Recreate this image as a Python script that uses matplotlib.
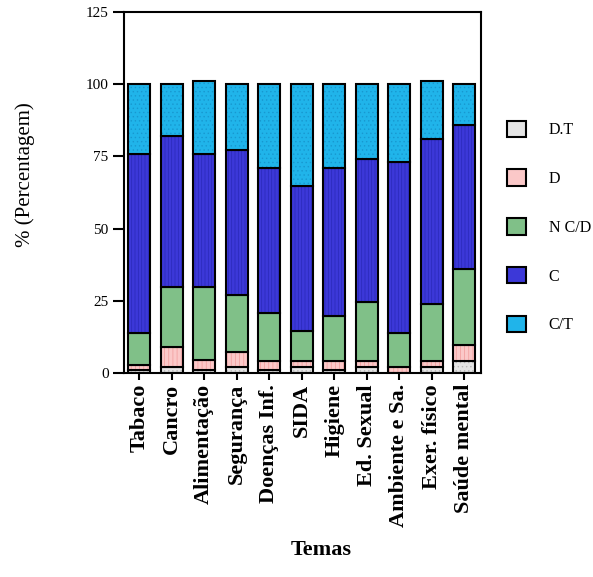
"""
Stacked percentage bars by theme (Temas) - recreated chart.
"""

import numpy as np
import matplotlib
matplotlib.use("Agg")
import matplotlib.pyplot as plt
from matplotlib.patches import Patch

# ---------- DATA ----------

temas = ["Tabaco", "Cancro", "Alimentação", "Segurança", "Doenças Inf.",
         "SIDA", "Higiene", "Ed. Sexual", "Ambiente e Sa.", "Exer. físico",
         "Saúde mental"]

series_names = ["D.T", "D", "N C/D", "C", "C/T"]

dt = [1.0, 2.2, 1.0, 2.2, 1.0, 2.2, 1.0, 2.2, 0.0, 2.2, 4.2]
d = [1.8, 6.7, 3.5, 5.0, 3.0, 1.8, 3.0, 1.8, 2.2, 1.8, 5.5]
ncd = [11.2, 20.8, 25.2, 19.8, 16.7, 10.5, 15.7, 20.5, 11.8, 19.9, 26.2]
c = [61.9, 52.4, 46.2, 50.2, 50.2, 50.2, 51.2, 49.6, 58.9, 57.0, 50.0]
ct = [24.1, 17.9, 25.1, 22.8, 29.1, 35.3, 29.1, 25.9, 27.1, 20.1, 14.1]

yticks = [0, 25, 50, 75, 100, 125]

# ---------- STYLE ----------

FACE = ["#e4e4e4", "#fbc8c8", "#80c088", "#3c38d8", "#20b4ea"]
HATCH_COL = ["#b8b8b8", "#f09a9a", "#80c088", "#2a28b8", "#1898d0"]
HATCH = ["....", "||||", None, "|||||", "...."]

plt.rcParams["font.family"] = ["Liberation Serif", "DejaVu Serif"]
plt.rcParams["hatch.linewidth"] = 0.5


def main():
    fig = plt.figure(figsize=(5.93, 5.77), dpi=100)
    ax = fig.add_axes([124 / 593, 1 - 373 / 577, (481 - 124) / 593, (373 - 12) / 577])

    x = np.arange(len(temas))
    width = 0.68
    bottom = np.zeros(len(temas))
    values = [dt, d, ncd, c, ct]

    for i, vals in enumerate(values):
        vals = np.array(vals)
        # fill + hatch first (hatch takes the edge colour)
        ax.bar(x, vals, width, bottom=bottom, color=FACE[i],
               edgecolor=HATCH_COL[i], hatch=HATCH[i], linewidth=0)
        # black outline on top
        ax.bar(x, vals, width, bottom=bottom, fill=False,
               edgecolor="black", linewidth=1.5)
        bottom = bottom + vals

    ax.set_ylim(0, 125)
    ax.set_xlim(-0.47, len(temas) - 1 + 0.52)
    ax.set_yticks(yticks)
    ax.set_yticklabels([str(t) for t in yticks], fontsize=11)
    ax.set_xticks(x)
    ax.set_xticklabels(temas, rotation=90, fontsize=16, fontweight="bold")
    ax.tick_params(axis="y", length=8, width=1.5, pad=3)
    ax.tick_params(axis="x", length=5, width=1.5, pad=3)
    for sp in ax.spines.values():
        sp.set_linewidth(1.5)

    fig.text(25 / 593, 1 - 175 / 577, "% (Percentagem)", fontsize=15,
             rotation=90, ha="center", va="center")
    fig.text(321 / 593, 1 - 550 / 577, "Temas", fontsize=16, fontweight="bold",
             ha="center", va="center")

    handles = [Patch(facecolor=FACE[i], edgecolor="black", linewidth=1.5)
               for i in range(len(series_names))]
    fig.legend(handles, series_names, loc="center left",
               bbox_to_anchor=(507 / 593, 1 - 227 / 577), frameon=False,
               fontsize=11.5, handlelength=1.2, handleheight=1.2,
               handletextpad=1.4, labelspacing=1.95, borderpad=0, borderaxespad=0)

    fig.savefig("out.png", dpi=100)
    plt.close(fig)


if __name__ == "__main__":
    main()
